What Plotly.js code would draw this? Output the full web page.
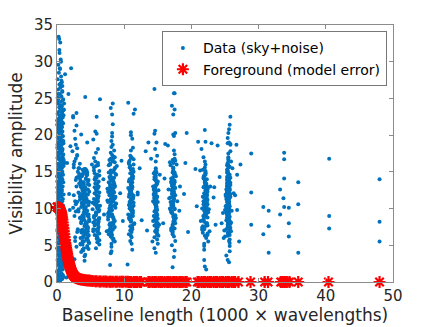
<!DOCTYPE html>
<html>
<head>
<meta charset="utf-8">
<script src="https://cdn.plot.ly/plotly-3.0.1.min.js"></script>
<style>
  html, body { margin: 0; padding: 0; background: #fff; }
  #chart { width: 436px; height: 327px; }
</style>
</head>
<body>
<div id="chart"></div>
<script>
// visibility samples, grouped by baseline bundle (x in 1000 wavelengths)
var shortX = [0.42,0.15,0.77,0.30,0.93,0.58,0.21,0.66,0.05,0.49,
  0.85,0.36,0.71,0.12,0.55,0.98,0.27,0.62,0.08,0.44,
  0.81,0.33,0.69,0.18,0.52,0.89,0.24,0.74,0.03,0.47,
  0.91,0.39,0.64,0.11,0.57,0.83,0.29,0.72,0.16,0.50,
  0.95,0.26,0.60,0.09,0.45,0.79,0.34,0.68,0.14,0.53,
  0.87,0.22,0.75,0.40,0.06,0.63,0.97,0.31,0.56,0.19,
  0.82,0.46,0.13,0.70,0.37,0.92,0.25,0.59,0.04,0.78,
  0.43,0.88,0.17,0.65,0.32,0.99,0.51,0.10,0.73,0.28,
  0.61,0.07,0.84,0.38,0.54,0.20,0.94,0.48,0.76,0.35,
  0.67,0.02,0.90,0.41,0.23,0.80,0.58,0.14,0.71,0.45,
  0.30,0.86,0.12,0.63,0.97,0.39,0.55,0.08,0.74,0.27,
  0.92,0.49,0.18,0.66,0.35,0.83,0.05,0.60,0.42,0.78,
  0.21,0.69,0.95,0.33,0.52,0.11,0.87,0.44,0.64,0.26,
  0.81,0.37,0.58,0.15,0.73,0.48,0.03,0.90,0.31,0.68,
  0.54,0.19,0.85,0.40,0.62,0.09,0.76,0.29,0.96,0.47,
  0.34,0.71,0.13,0.57,0.88,0.24,0.65,0.43,0.80,0.17,
  0.50,0.36,0.72,0.10,0.61,0.28,0.45,0.20,0.55,0.38,
  0.66,0.25,0.48,0.80,0.33,0.60,0.42,1.20,0.35,0.50,
  0.58,0.22,0.91,0.36,0.74,0.12,0.49,1.05,0.27,0.66,
  0.83,0.04,0.53,0.31,0.97,0.18,0.70,0.44,1.10,0.09,
  0.62,0.35,0.88,0.15,0.56,0.79,0.26,1.02,0.41,0.68,
  0.07,0.93,0.50,0.20,0.76,0.38,1.08,0.13,0.60,0.85,
  0.29,0.72,0.46,0.99,0.17,0.64,0.33,0.90,0.06,0.55,
  0.81,0.24,1.12,0.43,0.69,0.11,0.87,0.52,0.30,0.95,
  0.19,0.73,0.40,1.00,0.58,0.14,0.82,0.47,0.25,0.67,
  0.92,0.03,0.61,0.37,0.78,0.21,1.06,0.45,0.71,0.10,
  0.54,0.89,0.32,0.65,0.16,0.96,0.42,0.75,0.28,1.15,
  0.57,0.08,0.84,0.39,0.63,0.23,0.94,0.48,0.77,0.34,
  0.60,0.12,0.86,0.44,0.70,0.26,1.03,0.51,0.18,0.80,
  0.37,0.66,0.05,0.92,0.55,0.31,0.74,0.45,0.62,0.40];
var shortY = [0.1,0.2,0.4,0.5,0.8,0.9,1.1,1.2,1.4,1.6,
  1.7,1.9,2.0,2.3,2.4,2.5,2.7,2.9,3.0,3.2,
  3.3,3.5,3.7,3.8,3.9,4.1,4.3,4.4,4.6,4.7,
  4.9,5.1,5.2,5.4,5.5,5.6,5.9,6.0,6.1,6.3,
  6.5,6.6,6.8,6.9,7.1,7.2,7.4,7.6,7.7,7.8,
  8.0,8.2,8.3,8.5,8.6,8.8,9.0,9.1,9.3,9.4,
  9.6,9.7,9.9,10.1,10.2,10.4,10.5,10.7,10.8,11.0,
  11.1,11.3,11.5,11.6,11.7,11.9,12.1,12.2,12.4,12.5,
  12.7,12.9,13.0,13.1,13.3,13.5,13.6,13.8,13.9,14.1,
  14.2,14.4,14.6,14.7,14.8,15.0,15.2,15.3,15.5,15.6,
  15.8,15.9,16.1,16.3,16.4,16.6,16.7,16.9,17.0,17.2,
  17.4,17.5,17.6,17.8,18.0,18.1,18.3,18.4,18.6,18.8,
  18.9,19.1,19.2,19.4,19.5,19.7,19.9,20.0,20.2,20.3,
  20.5,20.6,20.8,21.0,21.1,21.3,21.4,21.6,21.8,21.9,
  22.1,22.2,22.4,22.6,22.7,22.9,23.0,23.2,23.4,23.6,
  23.8,24.0,24.3,24.5,24.8,25.0,25.3,25.6,25.9,26.2,
  26.5,26.9,27.2,27.6,28.0,28.5,29.0,29.6,30.3,31.2,
  27.4,33.4,32.6,26.7,33.1,30.0,29.1,28.3,31.6,27.0,
  0.3,13.2,5.8,21.4,9.1,17.6,2.6,24.3,11.7,7.4,
  19.8,1.5,15.3,8.2,22.7,4.4,12.6,18.1,6.7,25.1,
  10.3,3.2,16.9,20.6,7.9,14.0,0.8,23.5,11.1,5.3,
  18.7,9.6,2.1,21.9,13.9,6.2,16.2,24.7,8.7,1.0,
  12.0,19.3,4.9,15.8,10.9,22.3,3.6,17.3,7.1,14.6,
  0.5,20.9,9.3,5.6,23.9,12.3,2.9,18.4,15.0,6.9,
  11.4,21.1,1.8,16.6,8.5,25.6,4.1,13.6,19.0,10.6,
  7.6,22.0,3.3,14.3,17.9,0.9,9.8,24.0,6.4,12.8,
  20.2,2.4,15.6,11.8,5.0,18.9,8.9,23.2,13.4,4.7,
  16.0,1.3,21.7,7.3,10.0,19.6,3.9,14.9,26.0,6.0,
  12.2,17.0,0.6,22.5,9.4,15.2,5.5,20.0,11.6,2.7,
  18.2,8.0,13.7,24.9,4.3,16.7,10.4,21.2,7.0,19.3];

var b4X = [3.6,4.1,2.7,4.5,3.9,3.2,4.7,3.5,4.3,2.5,
  4.0,3.8,4.6,3.0,4.2,3.7,4.8,2.9,4.4,3.4,
  3.9,4.6,2.6,4.1,3.6,4.3,3.1,4.7,3.8,4.0,
  2.4,4.5,3.5,4.2,3.3,4.8,3.7,2.8,4.4,3.9,
  4.1,3.6,4.6,2.7,4.3,3.8,4.0,3.2,4.5,3.5,
  4.7,2.9,4.2,3.9,3.4,4.4,3.7,4.1,2.6,4.6,
  3.8,4.3,3.0,4.0,3.6,4.8,2.5,4.2,3.9,4.5,
  3.3,4.1,3.7,4.7,2.8,4.4,3.5,4.0,3.8,4.6,
  3.1,4.3,3.6,2.4,4.2,3.9,4.5,3.4,4.1,2.7,
  4.8,3.7,4.0,3.2,4.4,3.8,4.6,2.9,4.3,3.5,
  2.6,3.9,4.2,3.0,4.7,2.3,3.6,4.1,2.8,4.5,
  3.7,4.2,4.6,3.4,4.0,4.8,3.9,4.4,3.1,4.1,
  3.6,4.5,2.8,4.3,3.8,4.7,3.5,4.0,4.2,2.6,
  4.6,3.9,3.3,4.4,4.1,3.7,4.8,3.0,4.3,3.6,
  4.5,4.0,2.9,3.8,4.2,4.7,3.4,4.1,3.9,2.5,
  4.4,3.5,4.6,3.2,4.0,4.3,3.7,4.8,3.8,2.7,
  4.2,3.6,4.5,3.1,4.1,3.9,4.7,3.3,4.4,4.0,
  3.5,4.6,2.8,4.2,3.8,4.3,3.0,4.5,3.7,4.1];
var b4Y = [8.2,12.4,6.1,14.9,10.3,9.6,5.4,13.1,7.7,11.8,
  4.6,15.3,9.0,6.8,12.9,10.7,8.5,14.2,5.9,11.2,
  13.6,7.3,16.4,9.8,4.1,11.5,15.0,6.4,12.0,8.9,
  10.1,14.6,5.2,7.9,13.4,10.9,6.7,18.7,9.3,12.7,
  15.4,8.0,11.0,5.6,14.0,7.1,9.5,12.2,6.0,13.8,
  10.5,4.8,15.1,8.6,11.6,7.4,14.4,9.9,20.6,5.7,
  12.5,10.2,17.3,6.9,13.0,8.3,15.6,11.3,4.3,9.2,
  14.7,7.6,12.8,6.3,10.6,15.2,8.8,13.5,5.1,11.9,
  9.7,14.1,7.0,22.6,10.0,12.3,6.5,16.1,8.4,19.5,
  13.2,11.4,5.5,15.5,7.8,9.1,12.6,21.3,10.8,14.3,
  3.1,6.2,3.7,18.2,4.5,17.8,20.1,2.9,13.9,19.0,
  10.8,6.6,13.3,8.7,15.1,5.3,11.6,14.5,7.2,9.4,
  12.9,4.9,16.8,8.1,10.4,13.9,6.0,11.1,15.4,9.0,
  7.5,14.8,12.1,5.8,10.0,13.5,8.3,17.2,11.9,6.8,
  9.7,15.0,13.0,4.4,12.5,8.9,14.1,7.0,10.6,16.0,
  11.3,5.1,13.7,9.9,6.3,15.3,8.5,12.3,14.6,11.0,
  7.8,10.2,4.7,14.3,12.7,6.1,9.2,15.5,8.0,13.2,
  11.8,6.9,9.6,14.9,5.6,12.0,10.9,7.4,13.6,3.5];

var b6X = [5.8,6.1,5.4,6.3,5.6,5.9,6.2,5.5,6.0,5.7,
  6.3,5.3,5.9,6.1,5.6,6.2,5.8,5.4,6.0,5.7,
  6.1,5.5,6.3,5.8,5.9,6.2,5.6,6.0,5.4,6.1,
  5.7,6.3,5.9,5.5,6.2,5.8,6.0,5.6,6.1,5.3,
  5.9,6.2,5.7,6.0,5.5,6.3,5.8,6.1,5.6,5.9,
  6.4,5.2,6.0,5.7,6.2,
  5.9,6.2,5.6,6.0,5.8,6.3,5.5,6.1,5.7,6.0,
  5.9,6.2,5.4,6.1,5.8,6.3,5.6,6.0,5.9,5.7,
  6.2,5.5,6.1,5.8,6.0,5.6,6.3,5.9,5.7,6.1];
var b6Y = [9.4,12.8,7.2,15.1,10.6,6.3,13.7,8.8,11.5,16.4,
  5.7,9.9,14.2,7.8,12.1,10.3,17.6,6.9,13.0,8.4,
  11.0,15.6,5.1,9.1,12.5,7.5,14.8,10.0,19.4,8.0,
  13.4,6.6,11.8,16.9,9.6,4.6,12.9,7.1,15.9,10.8,
  20.2,8.6,13.9,6.0,11.3,14.5,9.3,18.1,7.7,12.3,
  10.4,16.0,5.4,20.5,8.2,
  11.2,8.5,14.0,6.8,12.6,9.8,15.2,7.3,10.9,13.4,
  5.9,11.7,8.1,16.2,9.5,12.2,6.4,14.6,10.3,7.9,
  13.0,9.0,11.4,15.8,6.1,12.9,8.7,10.6,14.3,7.0];

var b8X = [8.1,7.7,8.5,7.9,8.3,7.6,8.7,8.0,8.4,7.8,
  8.2,8.6,7.5,8.0,8.3,7.9,8.8,8.1,7.7,8.5,
  8.2,7.8,8.4,8.0,8.6,7.6,8.3,7.9,8.1,8.7,
  7.8,8.2,8.5,8.0,7.7,8.4,8.1,7.9,8.6,8.3,
  8.0,7.5,8.2,8.4,7.8,8.1,8.7,7.9,8.3,8.0,
  8.5,7.6,8.2,8.4,7.8,8.1,8.6,8.0,7.9,8.3,
  8.8,7.4,8.2,8.5,8.0,7.7,8.3,8.1,8.9,7.9,
  8.4,8.2,8.6,7.8,8.0,
  8.2,7.9,8.5,8.0,8.3,7.7,8.6,8.1,8.4,7.8,
  8.0,8.3,7.6,8.5,8.2,7.9,8.7,8.1,8.4,8.0,
  7.8,8.3,8.6,8.1,7.7,8.4,8.2,7.9,8.5,8.0,
  8.3,7.8,8.6,8.1,8.2,7.6,8.4,8.0,8.7,7.9,
  8.3,8.1,8.5,7.8,8.2,8.0,8.4,7.7,8.6,8.1];
var b8Y = [10.2,13.6,7.4,16.1,11.8,8.9,14.7,6.2,12.4,9.6,
  17.3,5.5,11.1,15.2,8.1,13.0,10.7,18.4,7.0,12.9,
  9.2,14.3,5.9,16.8,11.4,8.5,13.9,10.0,6.7,15.6,
  12.1,9.8,17.9,7.7,14.9,11.0,4.8,13.3,8.3,16.4,
  10.5,12.7,6.4,15.0,9.4,19.2,11.6,7.3,14.1,3.9,
  12.2,10.9,20.3,8.7,13.5,5.2,17.0,11.9,9.0,21.5,
  14.6,6.9,22.8,10.4,23.7,12.6,18.7,4.2,15.8,2.3,
  7.9,19.8,13.1,16.6,11.3,
  11.2,8.0,14.2,9.9,12.8,6.5,15.5,10.8,13.7,7.8,
  17.6,11.5,9.3,13.4,6.0,16.0,10.1,12.1,8.6,14.8,
  11.8,7.1,13.0,9.7,15.9,5.7,12.6,10.4,8.3,14.4,
  16.7,11.0,7.5,13.8,9.1,12.3,17.1,6.8,10.6,14.1,
  8.9,12.9,15.3,10.0,11.7,7.6,13.2,9.5,16.3,12.4];

var b11X = [11.0,10.8,11.3,10.9,11.1,10.7,11.4,11.0,10.8,11.2,
  11.1,10.6,11.3,10.9,11.0,11.5,10.8,11.2,10.7,11.1,
  11.0,11.3,10.9,11.2,10.8,11.4,11.0,10.7,11.1,11.3,
  10.9,11.2,11.0,10.8,11.5,11.1,10.9,11.3,10.7,11.0,
  11.2,10.8,11.4,11.0,11.1,10.9,11.3,10.8,11.2,11.0,
  10.6,11.4,11.1,10.9,11.6,10.7,11.2,11.0,12.0,10.5,
  11.1,10.9,11.3,11.0,10.8,11.2,11.4,10.9,11.1,11.0,
  10.7,11.3,11.2,10.8,11.0,11.1,11.4,10.9,11.2,11.0,
  10.8,11.3,11.1,10.9,11.2,11.0,10.7,11.4,11.1,10.9,
  11.3,11.0,10.8,11.2,11.1,10.9,11.3,11.0,11.2,10.8];
var b11Y = [12.3,9.1,15.4,7.6,13.8,10.5,16.7,8.3,11.9,14.5,
  6.8,12.8,9.7,17.2,11.2,8.0,14.0,10.1,16.1,6.1,
  13.1,9.4,15.8,7.2,12.0,10.8,17.9,8.7,13.5,11.5,
  5.6,14.7,9.9,16.5,7.9,12.6,10.3,15.1,6.5,13.3,
  19.5,8.5,11.7,20.4,14.2,7.0,18.3,10.0,12.9,16.9,
  9.2,22.9,5.2,11.0,23.5,13.7,4.4,20.0,12.2,2.4,
  11.4,8.8,14.1,9.8,12.5,7.4,15.0,10.7,13.2,8.2,
  16.3,11.8,9.5,13.9,6.3,12.1,10.4,14.8,7.7,11.0,
  15.6,9.0,12.7,10.1,13.6,8.5,11.6,16.0,9.7,12.4,
  14.4,7.1,10.9,13.0,17.0,8.9,11.3,15.3,9.3,12.0];

var b15X = [14.7,14.5,14.9,14.6,14.8,14.4,15.0,14.7,14.5,14.9,
  14.6,14.8,14.3,14.7,15.1,14.5,14.9,14.6,14.8,14.4,
  14.7,15.0,14.6,14.8,14.5,14.9,14.7,14.4,15.2,14.6,
  14.8,14.5,14.7,15.0,14.6,14.9,14.3,14.8,14.7,14.5,
  14.9,14.6,14.8,14.2,14.7,15.1,14.5,14.8,14.6,14.9,
  14.4,15.3,14.7,14.0,14.6,
  14.7,14.6,14.8,14.5,14.9,14.7,14.4,14.8,14.6,15.0,
  14.7,14.5,14.9,14.6,14.8,14.7,14.3,14.9,14.6,14.8,
  14.5,14.7,15.0,14.6,14.8,14.4,14.7,14.9,14.5,14.8,
  14.6,14.7,14.9,14.5,14.8,14.6,14.7,15.0,14.5,14.8];
var b15Y = [11.2,8.4,13.6,6.9,10.1,14.8,7.5,12.3,9.6,5.8,
  11.9,8.0,13.0,10.6,6.3,14.3,9.1,12.7,7.2,10.9,
  15.2,5.2,8.8,13.3,11.5,6.6,9.9,12.0,7.8,14.0,
  10.3,4.6,15.5,8.6,12.9,7.0,11.0,9.4,13.8,6.1,
  17.2,10.7,19.0,5.5,16.4,12.5,20.2,8.2,18.1,11.6,
  9.0,14.6,4.0,16.8,20.6,
  10.5,13.1,7.9,11.7,9.2,14.2,12.6,8.9,10.8,13.7,
  6.8,11.4,9.8,12.2,14.9,10.2,8.3,13.4,11.1,7.4,
  12.8,9.5,10.9,15.0,8.6,11.9,13.9,6.4,12.4,10.0,
  9.0,14.5,11.6,7.7,13.2,10.6,12.0,8.0,14.0,11.3];

var b17X = [17.3,17.1,17.5,16.9,17.4,17.2,17.6,17.0,17.3,17.5,
  16.8,17.4,17.2,17.7,17.1,17.3,16.9,17.5,17.2,17.4,
  17.0,17.6,17.3,17.1,17.5,16.8,17.4,17.2,17.6,17.0,
  17.3,17.5,16.9,17.4,17.1,17.7,17.2,17.3,16.7,17.5,
  17.4,17.0,17.6,17.2,17.8,17.3,16.6,17.5,17.1,17.4,
  18.2,17.2,17.5,16.5,17.9,17.3,18.3,17.6,17.4,17.2,
  17.3,17.2,17.4,17.1,17.5,17.3,17.0,17.4,17.2,17.6,
  17.3,17.1,17.5,17.2,17.4,17.3,16.9,17.5,17.2,17.4,
  17.1,17.3,17.6,17.2,17.4,17.0,17.3,17.5,17.1,17.4,
  17.2,17.3,17.5,17.1,17.4,17.2,17.3,17.6,17.0,17.4];
var b17Y = [10.8,13.4,8.1,15.9,11.7,9.3,14.6,7.0,12.5,16.8,
  10.0,6.2,13.9,8.7,12.0,15.2,9.8,17.4,7.6,11.3,
  14.1,5.6,10.5,13.1,8.4,16.3,11.9,6.7,12.8,9.5,
  15.6,7.3,10.9,17.9,5.0,14.4,12.2,8.9,11.4,4.3,
  19.9,13.7,20.3,6.5,16.0,22.8,12.6,23.5,24.0,25.7,
  9.7,2.0,14.9,18.6,11.0,20.1,13.0,16.5,3.4,10.3,
  11.1,14.0,8.6,12.4,9.9,15.5,10.5,13.3,7.8,11.8,
  16.2,9.4,12.9,10.2,14.7,8.2,11.5,13.6,6.9,12.1,
  10.8,15.0,9.1,13.0,11.3,7.3,14.3,10.0,12.6,8.8,
  16.6,11.0,13.8,9.6,12.3,14.9,10.4,8.0,13.5,11.7];

var b22X = [22.1,21.8,22.3,21.9,22.2,21.7,22.4,22.0,21.8,22.3,
  22.1,21.6,22.2,21.9,22.5,22.0,21.8,22.3,22.1,21.7,
  22.4,22.0,21.9,22.2,21.8,22.3,22.1,21.6,22.0,22.4,
  21.9,22.2,21.8,22.1,22.5,22.0,21.7,22.3,21.9,22.2,
  21.5,22.6,22.0,21.8,22.4,22.1,21.4,22.3,21.9,22.7,
  22.0,21.6,22.8,22.2,21.3,23.0,22.1,21.9,23.3,22.4,
  22.0,22.2,21.9,22.3,22.1,21.8,22.4,22.0,22.2,21.9,
  22.1,22.3,21.7,22.0,22.2,22.4,21.9,22.1,22.3,21.8,
  22.0,22.2,21.9,22.4,22.1,21.8,22.3,22.0,22.2,21.9,
  22.1,22.3,21.8,22.0,22.2,22.5,21.9,22.1,22.3,22.0];
var b22Y = [10.4,12.9,7.8,14.3,9.2,11.6,6.4,13.5,8.5,10.9,
  15.1,7.1,12.2,9.7,5.5,13.9,11.0,8.0,14.8,6.7,
  12.6,10.1,4.9,13.1,9.0,11.4,16.0,7.4,12.0,8.8,
  14.5,6.0,10.6,13.3,9.5,15.6,7.6,11.8,5.2,12.4,
  18.1,9.9,20.7,17.0,11.2,19.1,8.3,14.0,3.0,6.9,
  2.1,10.0,13.0,1.7,15.2,18.9,12.8,4.4,11.5,7.7,
  10.8,13.4,8.2,11.9,9.6,14.1,12.3,7.5,10.3,13.0,
  8.9,11.1,15.3,9.3,12.7,6.6,11.5,14.6,10.0,8.5,
  13.7,7.9,12.1,10.6,14.9,9.0,11.8,6.3,13.3,10.2,
  12.5,8.0,14.3,11.4,9.8,12.9,7.2,13.9,10.5,16.4];

var b25X = [25.5,25.3,25.7,25.4,25.6,25.2,25.8,25.5,25.3,25.6,
  25.4,25.7,25.1,25.5,25.9,25.3,25.6,25.4,25.7,25.2,
  25.5,25.8,25.4,25.6,25.3,25.7,25.5,25.0,25.6,25.4,
  25.8,25.3,25.5,25.7,25.2,25.6,25.4,25.9,25.5,25.3,
  25.6,25.1,25.7,25.4,25.5,25.8,25.3,25.6,25.2,25.5,
  25.7,25.4,25.6,25.0,25.5,26.0,25.3,25.7,25.4,25.6,
  24.9,25.8,25.5,25.3,26.1,25.6,24.8,25.4,25.7,25.5,
  26.3,25.2,25.6,24.7,25.9,25.8,25.7,25.4,26.5,25.6,
  25.5,25.8,25.6,26.8,24.5,
  25.5,25.4,25.6,25.3,25.7,25.5,25.2,25.6,25.4,25.8,
  25.5,25.3,25.7,25.4,25.6,25.5,25.1,25.7,25.4,25.6,
  25.3,25.5,25.8,25.4,25.6,25.2,25.5,25.7,25.3,25.6,
  25.4,25.5,25.7,25.3,25.6,25.4,25.5,25.8,25.2,25.6,
  25.5,25.4,25.6,25.3,25.7,25.5,25.4,25.6,25.5,25.3,
  25.7,25.5,25.4,25.6,25.5,25.8,25.3,25.6,25.4,25.5];
var b25Y = [10.7,12.4,8.9,14.1,11.3,9.5,13.2,7.6,12.0,10.2,
  15.0,8.3,11.7,13.8,6.9,10.9,12.8,9.1,14.6,7.2,
  11.5,13.5,8.6,10.0,15.3,6.4,12.2,9.8,13.9,11.1,
  7.9,14.9,10.5,5.8,12.6,9.3,16.1,8.1,11.9,13.0,
  6.6,10.3,15.7,9.0,12.9,7.4,14.3,11.4,8.4,16.8,
  5.3,13.6,10.8,6.2,17.5,9.7,12.3,4.9,14.0,11.0,
  7.0,18.8,13.3,8.8,15.5,10.1,6.0,18.9,4.2,20.3,
  12.1,3.6,19.0,9.4,16.4,22.5,21.4,3.0,11.8,20.8,
  15.9,18.7,2.7,14.6,8.0,
  11.0,13.7,8.4,12.2,9.7,14.5,10.4,12.9,7.8,11.6,
  15.6,9.2,13.3,10.8,14.0,8.0,11.9,12.5,6.7,10.1,
  13.9,9.0,12.0,15.2,8.7,11.3,14.8,7.1,13.1,10.6,
  16.2,9.5,12.7,11.2,13.6,8.2,10.9,14.2,9.9,12.3,
  17.0,7.5,11.8,15.9,10.3,13.0,6.3,12.6,16.6,9.4,
  11.5,14.7,8.8,12.1,10.0,17.8,13.4,5.6,19.6,11.7];

var sparseX = [1.7,2.1,2.4,2.9,4.2,5.9,6.4,8.3,10.6,14.5,17.5,
  1.5,1.8,1.3,1.6,2.0,1.9,1.2,1.4,1.1,
  6.9,7.0,9.4,9.6,9.8,12.0,12.3,12.6,13.2,13.4,13.6,16.0,15.8,16.1,
  18.9,19.1,19.3,19.5,20.6,20.8,21.0,23.4,23.6,23.9,24.2,26.7,26.8,27.3,27.1,
  28.9,28.9,28.9,30.7,30.7,31.5,31.5,31.5,33.2,33.2,33.8,33.8,33.8,33.7,33.8,
  34.5,34.5,34.5,35.9,35.9,35.9,40.5,40.5,40.5,48.0,48.0,48.0];
var sparseY = [25.6,29.1,22.4,23.0,25.2,22.5,24.9,24.3,24.4,26.3,25.7,
  16.2,12.0,7.5,4.0,18.5,9.8,2.1,0.6,5.2,
  14.0,9.2,12.1,16.5,8.3,11.9,15.5,8.4,17.8,7.0,19.0,14.1,8.0,18.8,
  12.0,16.2,20.3,6.8,15.4,10.3,19.1,12.9,7.8,18.6,14.3,18.7,9.8,16.0,5.5,
  17.5,12.2,7.8,10.2,6.5,9.7,7.6,4.0,12.6,9.2,16.7,17.6,14.1,11.4,10.2,
  10.1,8.0,6.2,13.6,10.6,4.0,16.8,9.0,7.3,14.0,8.2,5.5];

// foreground model error at the same baselines
var fgX = [0.02,0.08,0.13,0.19,0.24,0.31,0.36,0.42,0.47,0.53,
  0.58,0.64,0.69,0.75,0.80,0.86,0.91,0.97,1.02,1.08,
  1.13,1.19,1.24,1.30,1.35,1.41,1.46,1.52,1.57,1.63,
  1.68,1.74,1.79,1.85,1.90,1.96,2.01,2.07,2.12,2.18,
  2.23,2.29,2.35,2.42,2.50,2.58,2.67,2.76,2.86,2.97,
  3.10,3.25,3.40,3.60,3.80,4.00,4.25,4.50,4.75,5.00,
  5.3,5.7,5.9,6.3,6.5,6.9,7.2,7.4,7.8,8.0,8.3,8.7,8.9,9.3,9.6,9.8,
  10.2,10.5,10.7,11.0,11.4,11.6,11.9,12.3,12.5,
  13.6,13.8,14.2,14.5,14.7,15.1,15.4,15.6,16.0,16.4,16.6,16.9,17.3,17.5,17.8,18.2,18.4,18.7,19.1,19.3,
  20.9,21.1,21.5,21.8,22.0,22.4,22.7,22.9,23.3,23.6,23.8,24.2,24.5,24.7,25.1,25.4,25.6,26.0,26.3,26.5,27.0,
  28.8,30.9,31.4,33.3,33.6,33.9,34.2,34.6,35.9,40.4,48.0];
var fgY = [10.2,10.2,10.2,10.1,10.1,10.0,10.0,9.9,9.8,9.7,
  9.6,9.4,9.1,8.8,8.5,8.1,7.7,7.3,6.9,6.5,
  6.1,5.7,5.3,5.0,4.7,4.4,4.1,3.8,3.5,3.3,
  3.0,2.8,2.6,2.4,2.2,2.0,1.85,1.7,1.55,1.4,
  1.3,1.2,1.1,1.0,0.9,0.8,0.72,0.65,0.58,0.52,
  0.46,0.41,0.37,0.33,0.30,0.27,0.24,0.21,0.19,0.16,
  0.12,0.1,0.1,0.08,0.08,0.07,0.06,0.05,0.05,0.04,0.04,0.03,0.03,0.03,0.02,0.02,
  0.02,0.02,0.01,0.01,0.01,0.01,0.01,0.01,0.01,
  0,0,0,0,0,0,0,0,0,0,0,0,0,0,0,0,0,0,0,0,
  0,0,0,0,0,0,0,0,0,0,0,0,0,0,0,0,0,0,0,0,0,
  0,0,0,0,0,0,0,0,0,0,0];

var dataX = [].concat(shortX, b4X, b6X, b8X, b11X, b15X, b17X, b22X, b25X, sparseX);
var dataY = [].concat(shortY, b4Y, b6Y, b8Y, b11Y, b15Y, b17Y, b22Y, b25Y, sparseY);

var traceData = {
  x: dataX,
  y: dataY,
  mode: 'markers',
  type: 'scatter',
  name: 'Data (sky+noise)',
  marker: { color: '#0072BD', size: 4, line: { width: 0 } },
  cliponaxis: false
};

var traceFg = {
  x: fgX,
  y: fgY,
  mode: 'markers',
  type: 'scatter',
  name: 'Foreground (model error)',
  marker: { symbol: 'asterisk-open', color: '#FF0000', size: 10, line: { color: '#FF0000', width: 2.2 } },
  cliponaxis: false
};

var axisStyle = {
  showline: true,
  linecolor: '#8c8c8c',
  linewidth: 1,
  mirror: 'ticks',
  ticks: 'inside',
  ticklen: 4,
  tickcolor: '#8c8c8c',
  showgrid: false,
  zeroline: false,
  tickfont: { family: 'DejaVu Sans', size: 15, color: '#262626' }
};

var layout = {
  width: 436,
  height: 327,
  margin: { l: 57, r: 43, t: 25, b: 45 },
  paper_bgcolor: '#ffffff',
  plot_bgcolor: '#ffffff',
  font: { family: 'DejaVu Sans', color: '#262626' },
  showlegend: true,
  legend: {
    x: 0.647, y: 0.975, xanchor: 'center', yanchor: 'top',
    bgcolor: '#ffffff', bordercolor: '#777777', borderwidth: 1,
    font: { family: 'DejaVu Sans', size: 14, color: '#000000' },
    tracegroupgap: 0
  },
  xaxis: Object.assign({}, axisStyle, {
    range: [0, 50], dtick: 10,
    title: { text: 'Baseline length (1000 × wavelengths)', font: { family: 'DejaVu Sans', size: 17, color: '#262626' }, standoff: 4 }
  }),
  yaxis: Object.assign({}, axisStyle, {
    range: [0, 35], dtick: 5,
    title: { text: 'Visibility amplitude', font: { family: 'DejaVu Sans', size: 17, color: '#262626' }, standoff: 6 }
  })
};

Plotly.newPlot('chart', [traceData, traceFg], layout, { displayModeBar: false, staticPlot: true });
</script>
</body>
</html>
